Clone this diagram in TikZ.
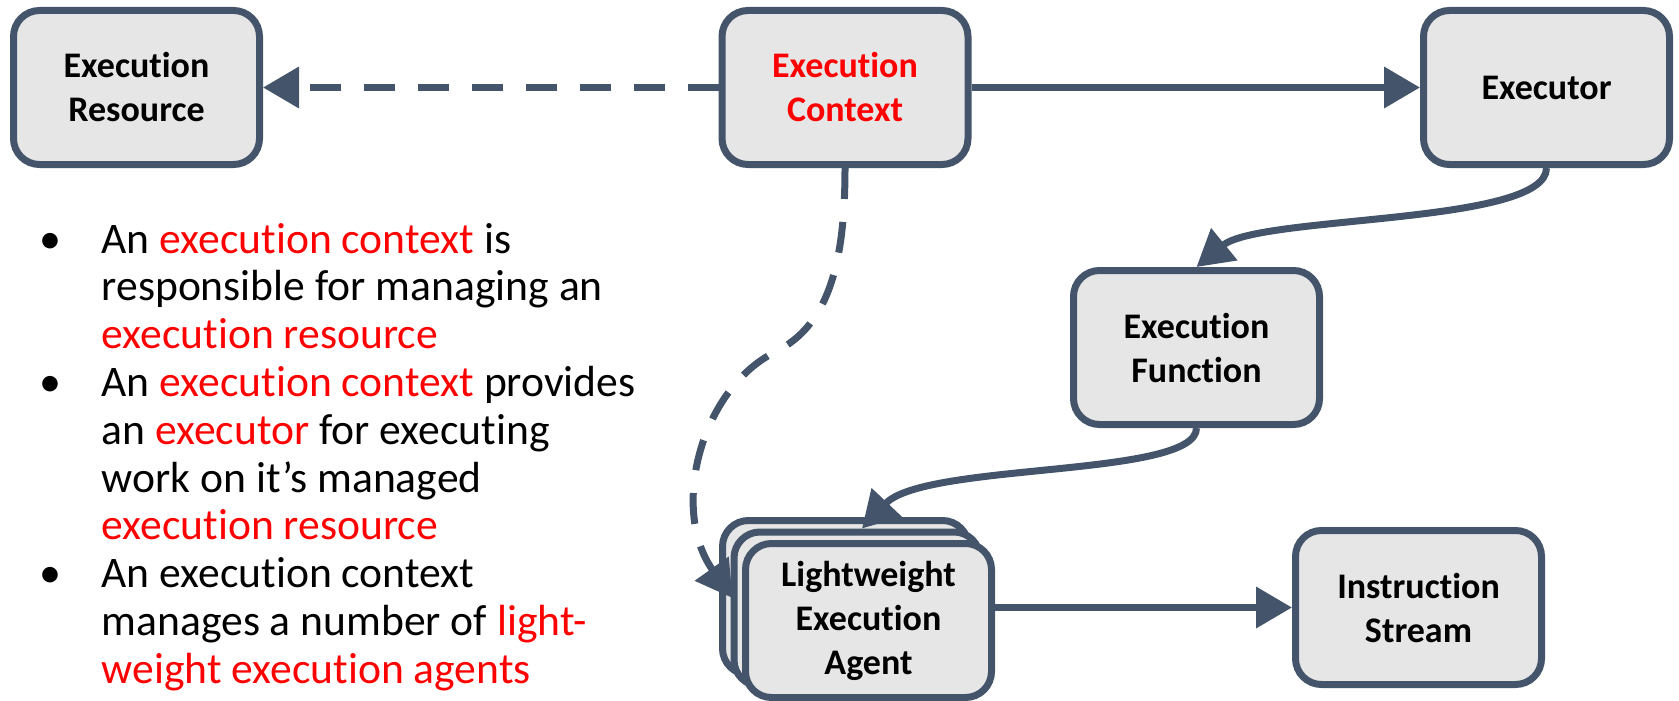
\documentclass[tikz,border=0pt]{standalone}
\usepackage{fontspec}
\setmainfont{Carlito}[Ligatures=NoCommon]
\usetikzlibrary{arrows.meta,calc}
\definecolor{edge}{HTML}{44546A}
\definecolor{boxfill}{HTML}{E7E6E6}
\definecolor{hl}{HTML}{FF0000}
\begin{document}
\begin{tikzpicture}[x=1pt,y=-1pt,
  blk/.style={draw=edge, fill=boxfill, line width=7pt, rounded corners=26pt,
    minimum width=246pt, minimum height=154pt, inner sep=0pt, align=center,
    font=\bfseries\fontsize{36}{44}\selectfont},
  conn/.style={draw=edge, line width=7pt, -{Triangle[length=36pt,width=40pt]}},
  dconn/.style={conn, dash pattern=on 31pt off 23pt},
  bul/.style={anchor=base, inner sep=0pt, font=\fontsize{44}{48}\selectfont},
  txt/.style={anchor=base west, inner sep=0pt, font=\fontsize{43.6}{48}\selectfont}]
\useasboundingbox (0,0) rectangle (1679,701);

% concept boxes
\node[blk] (er) at (136.5,87.5) {Execution\\Resource};
\node[blk] (ec) at (845,87.5) {\textcolor{hl}{Execution}\\\textcolor{hl}{Context}};
\node[blk] (ex) at (1546.5,87.5) {Executor};
\node[blk] (ef) at (1196.5,347.5) {Execution\\Function};
\node[blk] (is) at (1418.5,607.5) {Instruction\\Stream};

% stack of lightweight agents, back to front
\node[blk] (lea1) at (845.5,597.5) {};
\node[blk] (lea2) at (857,609) {};
\node[blk] (lea3) at (868.5,620.5) {Lightweight\\Execution\\Agent};

% connectors
\draw[dconn] (ec.west) -- (er.east);
\draw[conn] (ec.east) -- (ex.west);
\draw[conn] (ex.south) .. controls +(0,57) and +(63.5,-52) .. (ef.north);
\draw[conn] (ef.south) .. controls +(0,50) and +(63,-66.5) .. ($(lea2.north)+(5,0)$);
\coordinate (dtip) at ($(lea2.west)+(2,-11)$);
\draw[dconn] (ec.south) .. controls (845,260) and (830,325) .. (775,352)
  .. controls (700,390) and (670,510) .. (dtip);
\draw[conn] (lea3.east |- is.west) -- (is.west);

% bullet list
\node[bul] (b1) at (50,253) {•};
\node[bul] (b2) at (50,396.4) {•};
\node[bul] (b3) at (50,587.6) {•};
\node[txt] (t1) at (101.5,253) {An \textcolor{hl}{execution context} is};
\node[txt] (t2) at (101.5,300.8) {responsible for managing an};
\node[txt] (t3) at (101.5,348.6) {\textcolor{hl}{execution resource}};
\node[txt] (t4) at (101.5,396.4) {An \textcolor{hl}{execution context} provides};
\node[txt] (t5) at (101.5,444.2) {an \textcolor{hl}{executor} for executing};
\node[txt] (t6) at (101.5,492) {work on it’s managed};
\node[txt] (t7) at (101.5,539.8) {\textcolor{hl}{execution resource}};
\node[txt] (t8) at (101.5,587.6) {An execution context};
\node[txt] (t9) at (101.5,635.4) {manages a number of \textcolor{hl}{light-}};
\node[txt] (t10) at (101.5,683.2) {\textcolor{hl}{weight execution agents}};
\end{tikzpicture}
\end{document}
